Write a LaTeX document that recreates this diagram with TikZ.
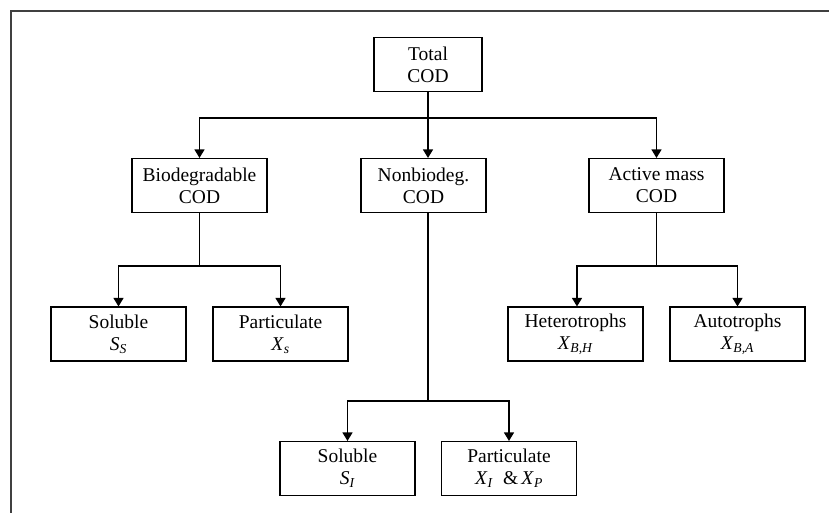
\documentclass[tikz,border=0pt]{standalone}
\usepackage{fontspec}
\setmainfont{Liberation Serif}
\usetikzlibrary{arrows.meta}
\tikzset{
  box/.style={draw=black, line width=1.1pt, minimum width=135pt, minimum height=54pt,
    align=center, inner sep=0pt, font=\fontsize{19.5}{22}\selectfont},
  conn/.style={line width=1.2pt},
  arr/.style={conn, -{Triangle[width=10pt,length=8.5pt]}},
  frame/.style={draw=black!75, line width=1.5pt}
}
\newcommand{\ital}[2]{\textit{#1}\textsubscript{\textit{#2}}}
\begin{document}
\begin{tikzpicture}[x=1pt,y=-1pt]
\useasboundingbox (0,0) rectangle (829,513);
\draw[frame] (11,11) rectangle (870,545);

\node[box, minimum width=108pt] (total) at (428,64.5) {Total\\COD};
\node[box] (bio) at (199.5,185.5) {Biodegradable\\COD};
\node[box, minimum width=125pt] (non) at (423.5,185.5) {Nonbiodeg.\\COD};
\node[box] (act) at (656.5,185.5) {Active mass\\COD};

\node[box] (ss) at (118.5,334) {Soluble\\\ital{S}{S}};
\node[box] (xs) at (280.5,334) {Particulate\\\ital{X}{s}};
\node[box] (xbh) at (575.5,334) {Heterotrophs\\\ital{X}{B,H}};
\node[box] (xba) at (737.5,334) {Autotrophs\\\ital{X}{B,A}};

\node[box] (si) at (347.5,468.5) {Soluble\\\ital{S}{I}};
\node[box] (xi) at (509,468.5) {Particulate\\\ital{X}{I}\ \ \&\,\ital{X}{P}};

\coordinate (j1) at (428,118);
\coordinate (j2) at (199.5,266);
\coordinate (j3) at (656.5,266);
\coordinate (j4) at (428,401);

\draw[conn] (total.south) -- (j1);
\draw[arr] (j1) -| (bio.north);
\draw[arr] (j1) -- (j1 |- non.north);
\draw[arr] (j1) -| (act.north);

\draw[conn] (bio.south) -- (j2);
\draw[arr] (j2) -| (ss.north);
\draw[arr] (j2) -| (xs.north);

\draw[conn] (act.south) -- (j3);
\draw[arr] (j3) -| ([xshift=1.5pt]xbh.north);
\draw[arr] (j3) -| (xba.north);

\draw[conn] (non.south -| j4) -- (j4);
\draw[arr] (j4) -| (si.north);
\draw[arr] (j4) -| (xi.north);
\end{tikzpicture}
\end{document}
